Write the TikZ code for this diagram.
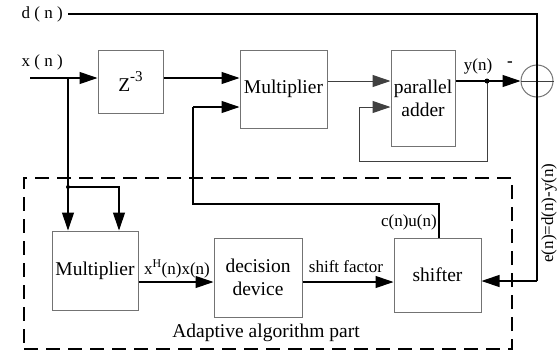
\documentclass[tikz,border=0pt]{standalone}
\usepackage{fontspec}
\setmainfont{Liberation Serif}
\newfontfamily\tmsfont{Liberation Serif}
\usetikzlibrary{arrows.meta}
\newcommand\bxfont{\tmsfont\fontsize{19.5}{23}\selectfont}
\newcommand\lbfont{\tmsfont\fontsize{17}{19}\selectfont}
\begin{document}
\begin{tikzpicture}[x=1pt,y=-1pt,
  blk/.style={draw=black!55, line width=1pt, inner sep=0pt, align=center, font=\bxfont},
  lbl/.style={inner sep=0pt, font=\lbfont},
  ln/.style={line width=1.1pt, black},
  gln/.style={line width=1pt, black!75},
  wire/.style={ln, -{Triangle[length=18pt,width=12pt]}},
  gwire/.style={gln, -{Triangle[length=18pt,width=12pt]}},
  dot/.style={circle, fill=black, inner sep=0pt, minimum size=5pt}]
\useasboundingbox (0,0) rectangle (557,354);
% blocks
\node[blk, minimum width=65pt, minimum height=63pt] (z) at (130.5,81.5) {Z\raisebox{1.1ex}{\fontsize{15}{15}\selectfont -3}};
\node[blk, minimum width=87pt, minimum height=78pt] (m1) at (283.5,89) {Multiplier};
\node[blk, minimum width=64pt, minimum height=96pt] (pa) at (423,98) {parallel\\adder};
\node[blk, minimum width=86pt, minimum height=79pt] (m2) at (95,270.5) {Multiplier};
\node[blk, minimum width=88pt, minimum height=79pt] (dd) at (258,277.5) {decision\\device};
\node[blk, minimum width=87pt, minimum height=74pt] (sh) at (437.5,275) {shifter};
\node[draw=black!55, line width=1pt, circle, minimum size=32pt, inner sep=0pt] (sum) at (537,81) {};
\node[draw, line width=2pt, dash pattern=on 14pt off 8pt, minimum width=488pt, minimum height=171pt, inner sep=0pt] (adp) at (268,263.5) {};
% coordinates
\coordinate (xin) at (30,78);
\coordinate (j1) at (68,78);
\coordinate (j2) at (68,187);
\coordinate (j3) at (119,187);
\coordinate (din) at (68,14);
\coordinate (dc) at (537,14);
\coordinate (ec) at (537,281);
\coordinate (yj) at (487,81);
\coordinate (fb1) at (487,161);
\coordinate (fb2) at (359,161);
\coordinate (fb3) at (359,107);
\coordinate (c1) at (439,204);
\coordinate (c2) at (193,204);
\coordinate (c3) at (193,107);
\coordinate (hy) at (0,282);
% connectors
\draw[wire] (xin) -- (xin -| z.west);
\draw[wire] (xin -| z.east) -- (xin -| m1.west);
\draw[ln] (j1) -- (j2);
\draw[wire] (j2) -- (j2 |- m2.north);
\draw[wire] (j2) -- (j3) -- (j3 |- m2.north);
\node[dot, minimum size=4pt] (jd) at (j2) {};
\draw[gwire] (yj -| m1.east) -- (yj -| pa.west);
\draw[wire] (yj -| pa.east) -- (sum.west);
\draw[gln] (yj) -- (fb1) -- (fb2) -- (fb3);
\draw[gwire] (fb3) -- (fb3 -| pa.west);
\node[dot] (yd) at (yj) {};
\draw[gln] (sum.west) -- (sum.east);
\draw[ln] (din) -- (dc) -- (ec);
\draw[wire] (ec) -- (ec -| sh.east);
\draw[ln] (c1 |- sh.north) -- (c1) -- (c2) -- (c3);
\draw[wire] (c3) -- (c3 -| m1.west);
\draw[wire] (hy -| m2.east) -- (hy -| dd.west);
\draw[wire] (hy -| dd.east) -- (hy -| sh.west);
% labels
\node[lbl, anchor=east] (dl) at (63,14) {d ( n )};
\node[lbl, anchor=east] (xl) at (63,62) {x ( n )};
\node[lbl] (yl) at (478,66) {y(n)};
\node[lbl, font=\bfseries\lbfont] (mn) at (510,64) {-};
\node[lbl] (xhl) at (177,269) {x\textsuperscript{H}(n)x(n)};
\node[lbl] (sfl) at (346,267) {shift factor};
\node[lbl, anchor=east] (cul) at (437,222) {c(n)u(n)};
\node[lbl, rotate=90] (el) at (549,213) {e(n)=d(n)-y(n)};
\node[inner sep=0pt, font=\bxfont] (al) at (266,333) {Adaptive algorithm part};
\end{tikzpicture}
\end{document}
